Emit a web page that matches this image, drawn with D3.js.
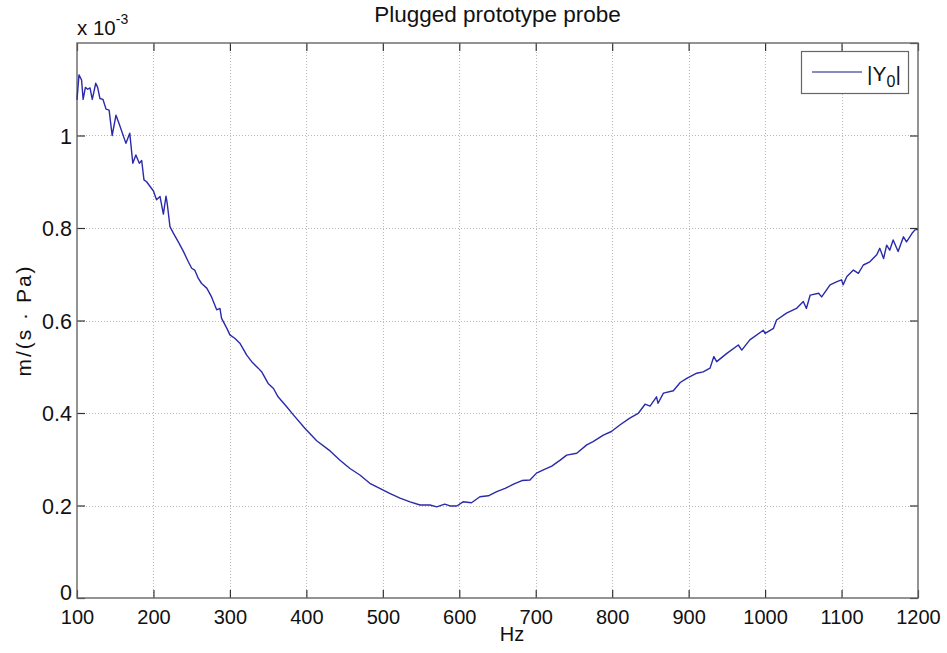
<!DOCTYPE html>
<html><head><meta charset="utf-8">
<script src="https://cdn.jsdelivr.net/npm/d3@7"></script>
<style>body{margin:0;background:#fff;} svg{display:block;font-family:"Liberation Sans",Arial,sans-serif;}</style>
</head><body>
<script>
const freqs = [100,102.6,106,108,111,114,117,120,124.5,127,130,134,138,142,146,151,155,164,169,173,177,181.5,184.6,187.6,191,200,204,208.6,213,216.4,218,221.6,226,232.5,239,245.6,250,254,258.7,263,269.7,276,282.7,287,289,296,300,306.7,313,322,328.5,337,342,350,357,363,374,383,398,413.5,431,444,457,470,483,496,509,522.5,535.6,548.7,561.7,570.5,581,588,596.7,605,616,627,638,649,660,671,682,692.5,701,710,721,732,740.5,753.6,766.7,775,788.4,799,810,823,834,843,849.5,858,860,867,880,889,897.5,910.6,919,928,933,936.7,950,965,969.5,980,997.7,1000,1011,1015,1028,1041,1050,1054,1059,1070,1074,1085,1094,1100,1102,1107,1115.5,1122,1128.5,1137,1146,1150,1155,1159,1163,1167.5,1174,1181,1185,1192,1196,1200];
const y0mag = [1.077,1.131,1.120,1.078,1.104,1.100,1.103,1.078,1.113,1.104,1.080,1.078,1.057,1.055,1.000,1.044,1.026,0.983,1.005,0.940,0.958,0.940,0.946,0.904,0.900,0.880,0.861,0.868,0.830,0.869,0.853,0.803,0.789,0.770,0.750,0.727,0.713,0.709,0.691,0.680,0.670,0.651,0.623,0.626,0.605,0.583,0.569,0.561,0.551,0.525,0.511,0.497,0.488,0.464,0.453,0.435,0.414,0.396,0.367,0.340,0.318,0.298,0.280,0.266,0.248,0.237,0.226,0.216,0.208,0.201,0.201,0.197,0.203,0.199,0.199,0.208,0.206,0.219,0.221,0.230,0.237,0.246,0.254,0.255,0.270,0.277,0.285,0.298,0.309,0.313,0.331,0.338,0.352,0.360,0.374,0.389,0.399,0.419,0.415,0.435,0.421,0.443,0.448,0.466,0.475,0.486,0.489,0.497,0.522,0.511,0.529,0.547,0.536,0.558,0.579,0.572,0.583,0.601,0.616,0.626,0.641,0.626,0.655,0.659,0.651,0.677,0.684,0.688,0.677,0.695,0.709,0.702,0.720,0.727,0.742,0.756,0.734,0.763,0.752,0.774,0.749,0.781,0.770,0.788,0.796,0.797];
const xTicks = [100,200,300,400,500,600,700,800,900,1000,1100,1200];
const yTicks = [0,0.2,0.4,0.6,0.8,1];
const titleText = "Plugged prototype probe";
const xLabel = "Hz";
const yLabel = "m/(s · Pa)";
const legendLabel = "|Y";
const legendSub = "0";

const W = 947, H = 653;
const L = 77, R = 918, T = 43, B = 598;
const svg = d3.select("body").append("svg").attr("width", W).attr("height", H);
const x = d3.scaleLinear().domain([100,1200]).range([L,R]);
const y = d3.scaleLinear().domain([0,1.2]).range([B,T]);
const data = freqs.map((f,i)=>({f, v:y0mag[i]}));

// grid
const grid = svg.append("g").attr("stroke","#b8b8b8").attr("stroke-width",1).attr("stroke-dasharray","1,2");
grid.selectAll("line.gx").data(xTicks.slice(1,-1)).join("line")
  .attr("x1",d=>Math.round(x(d))+0.5).attr("x2",d=>Math.round(x(d))+0.5).attr("y1",T).attr("y2",B);
grid.selectAll("line.gy").data(yTicks.concat([1.2]).slice(1,-1)).join("line")
  .attr("y1",d=>Math.round(y(d))+0.5).attr("y2",d=>Math.round(y(d))+0.5).attr("x1",L).attr("x2",R);

// axes with inward ticks
const tl = 8;
const fs = 20;
const xb = svg.append("g").attr("transform",`translate(0,${B})`).call(d3.axisBottom(x).tickValues(xTicks).tickSizeInner(-tl).tickSizeOuter(0).tickPadding(12).tickFormat(d3.format("d")));
const xt = svg.append("g").attr("transform",`translate(0,${T})`).call(d3.axisTop(x).tickValues(xTicks).tickSizeInner(-tl).tickSizeOuter(0).tickFormat(""));
const yl = svg.append("g").attr("transform",`translate(${L},0)`).call(d3.axisLeft(y).tickValues(yTicks).tickSizeInner(-tl).tickSizeOuter(0).tickPadding(5).tickFormat(d3.format("~g")));
const yr = svg.append("g").attr("transform",`translate(${R},0)`).call(d3.axisRight(y).tickValues(yTicks.concat([1.2])).tickSizeInner(-tl).tickSizeOuter(0).tickFormat(""));
[xb,xt,yl,yr].forEach(g=>{
  g.select(".domain").remove();
  g.selectAll(".tick line").attr("stroke","#333").attr("stroke-width",1.2);
  g.selectAll("text").attr("font-size",fs).attr("fill","#111").attr("font-family","Liberation Sans, Arial, sans-serif");
});
yl.selectAll("text").attr("dy","0.36em").attr("font-size",21.5);
yl.selectAll(".tick").filter(d=>d===0).select("text").attr("dy","0.08em");
// box
svg.append("rect").attr("x",L).attr("y",T).attr("width",R-L).attr("height",B-T)
  .attr("fill","none").attr("stroke","#666").attr("stroke-width",1.4);

// line
svg.append("path").datum(data).attr("fill","none").attr("stroke","#2a2aaa").attr("stroke-width",1.4)
  .attr("stroke-linejoin","round")
  .attr("d", d3.line().x(d=>x(d.f)).y(d=>y(d.v)));

// title
svg.append("text").attr("x",(L+R)/2).attr("y",22).attr("text-anchor","middle").attr("font-size",22.5).attr("fill","#111").text(titleText);
// exponent
const ex = svg.append("text").attr("x",L).attr("y",35).attr("font-size",20.5).attr("fill","#111");
ex.append("tspan").text("x 10");
ex.append("tspan").attr("font-size",14).attr("dy",-11).text("-3");
// x label
svg.append("text").attr("x",512).attr("y",641).attr("text-anchor","middle").attr("font-size",20).attr("fill","#111").text(xLabel);
// y label
svg.append("text").attr("transform",`translate(31,${(T+B)/2}) rotate(-90)`).attr("text-anchor","middle").attr("font-size",21).attr("fill","#111").attr("letter-spacing","2").text(yLabel);

// legend
const lg = svg.append("g");
lg.append("rect").attr("x",801.5).attr("y",51.5).attr("width",107).attr("height",42).attr("fill","#fff").attr("stroke","#666").attr("stroke-width",1.2);
lg.append("line").attr("x1",812).attr("x2",862).attr("y1",72).attr("y2",72).attr("stroke","#6262b4").attr("stroke-width",1.3);
const lt = lg.append("text").attr("x",867).attr("y",81).attr("font-size",21).attr("fill","#111");
lt.append("tspan").text(legendLabel);
lt.append("tspan").attr("font-size",16).attr("dy",6).text(legendSub);
lt.append("tspan").attr("dy",-6).text("|");
</script>
</body></html>
